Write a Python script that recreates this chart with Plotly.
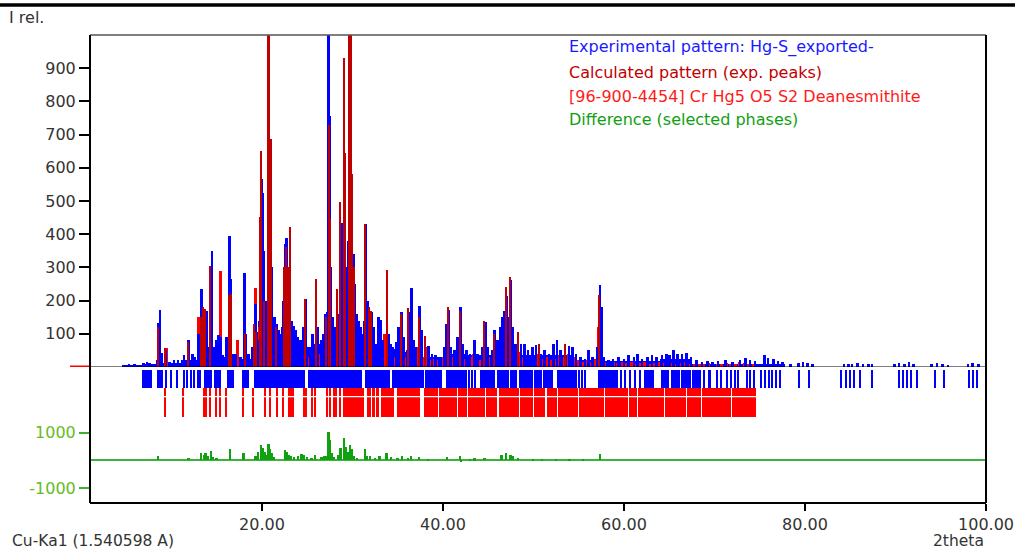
import numpy as np
import plotly.graph_objects as go

# ---------------- data ----------------
# Experimental pattern: peaks (2theta, I rel.)
exp_peaks = [
    (4.8, 6), (5.3, 8), (5.9, 8), (6.4, 6), (6.9, 12), (7.3, 15), (7.6, 12), (7.9, 10),
    (8.5, 133), (8.75, 172), (8.95, 42), (9.4, 52), (9.8, 15), (10.3, 20), (10.7, 22),
    (11.4, 36), (11.9, 81), (12.3, 40), (12.6, 30), (13.0, 100), (13.3, 235), (13.5, 178),
    (13.7, 175), (13.85, 170), (14.1, 60), (14.47, 350), (14.7, 60), (15.0, 81), (15.2, 96),
    (15.39, 90), (15.7, 30), (16.1, 90), (16.42, 395), (16.6, 265), (16.8, 40), (17.1, 40),
    (17.6, 30), (18.08, 284), (18.2, 100), (18.5, 40), (18.9, 60), (19.26, 190), (19.4, 106),
    (19.6, 80), (19.95, 566), (20.05, 523), (20.2, 350), (20.4, 200), (20.6, 160), (20.78, 644),
    (20.9, 520), (21.05, 300), (21.2, 140), (21.4, 150), (21.6, 130), (21.85, 110), (22.0, 100),
    (22.2, 120), (22.35, 200), (22.58, 370), (22.72, 388), (22.9, 250), (23.1, 130), (23.3, 140),
    (23.5, 125), (23.7, 110), (23.9, 90), (24.1, 80), (24.3, 70), (24.55, 120), (24.8, 205),
    (25.0, 60), (25.3, 50), (25.6, 100), (25.95, 250), (26.2, 120), (26.5, 80), (26.8, 100),
    (27.0, 160), (27.2, 165), (27.37, 1050), (27.47, 756), (27.6, 300), (27.8, 150), (28.0, 120),
    (28.3, 235), (28.5, 160), (28.65, 390), (28.85, 433), (29.07, 786), (29.2, 450), (29.4, 300),
    (29.55, 380), (29.75, 528), (29.9, 435), (30.1, 340), (30.3, 250), (30.5, 160), (30.7, 140),
    (30.9, 120), (31.1, 100), (31.3, 140), (31.5, 431), (31.65, 200), (31.9, 100), (32.1, 165),
    (32.3, 120), (32.6, 70), (32.9, 150), (33.1, 141), (33.3, 80), (33.8, 288), (34.0, 100),
    (34.2, 70), (34.5, 60), (34.8, 75), (35.1, 120), (35.4, 167), (35.7, 90), (36.0, 50),
    (36.2, 165), (36.5, 238), (36.8, 80), (37.0, 60), (37.4, 184), (37.6, 110), (38.0, 50),
    (38.4, 62), (38.8, 40), (39.2, 35), (39.6, 30), (40.1, 60), (40.4, 130), (40.6, 172),
    (40.9, 60), (41.3, 50), (41.6, 90), (41.95, 180), (42.2, 70), (42.6, 50), (43.0, 40),
    (43.5, 80), (43.8, 40), (44.3, 60), (44.7, 137), (45.0, 60), (45.4, 50), (45.7, 112),
    (46.0, 80), (46.3, 120), (46.6, 150), (46.8, 170), (47.0, 215), (47.2, 150), (47.5, 262),
    (47.7, 120), (48.0, 70), (48.3, 105), (48.6, 70), (49.0, 70), (49.4, 50), (49.9, 60),
    (50.3, 65), (50.8, 40), (51.2, 50), (51.7, 40), (52.2, 70), (52.6, 80), (53.0, 50),
    (53.5, 65), (53.9, 62), (54.3, 60), (54.7, 40), (55.2, 30), (55.7, 25), (56.1, 52),
    (56.5, 30), (57.1, 60), (57.35, 247), (57.5, 180), (57.8, 30), (58.3, 20), (58.8, 25),
    (59.4, 30), (60.0, 25), (60.5, 35), (61.1, 30), (61.5, 40), (62.0, 25), (62.6, 30),
    (63.1, 35), (63.6, 30), (64.2, 35), (64.7, 40), (65.0, 35), (65.5, 50), (65.9, 40),
    (66.4, 38), (66.9, 42), (67.4, 30), (68.0, 20), (68.6, 15), (69.2, 18), (69.8, 15),
    (70.4, 18), (71.2, 20), (72.0, 15), (72.8, 22), (73.4, 28), (73.9, 22), (74.5, 18),
    (75.5, 35), (75.9, 28), (76.5, 25), (77.0, 18), (77.5, 15), (78.4, 10), (79.3, 12),
    (79.8, 14), (80.3, 12), (80.8, 8), (84.3, 8), (84.8, 10), (85.2, 10), (85.8, 12),
    (86.4, 8), (87.0, 10), (87.4, 8), (89.9, 10), (90.4, 12), (91.0, 10), (91.5, 14),
    (92.0, 10), (94.0, 10), (94.6, 12), (95.2, 8), (95.8, 6), (98.0, 10), (98.5, 12), (99.2, 8),
]

# Experimental pattern: background level between peaks (start, end, level)
exp_background = [
    (4.5, 6.8, 4), (6.8, 8.3, 10), (8.3, 9.0, 20), (9.0, 11.0, 12), (11.0, 12.8, 20),
    (12.8, 14.0, 60), (14.0, 15.8, 35), (15.8, 17.0, 30), (17.0, 19.0, 25), (19.0, 19.6, 70),
    (19.6, 21.5, 140), (21.5, 22.4, 100), (22.4, 23.6, 120), (23.6, 24.4, 80), (24.4, 25.5, 60),
    (25.5, 27.2, 70), (27.2, 28.2, 100), (28.2, 29.5, 130), (29.5, 30.6, 150), (30.6, 31.8, 100),
    (31.8, 33.2, 70), (33.2, 35.0, 55), (35.0, 37.8, 45), (37.8, 40.0, 30), (40.0, 42.5, 40),
    (42.5, 46.0, 35), (46.0, 48.0, 70), (48.0, 52.0, 35), (52.0, 54.5, 35), (54.5, 57.0, 22),
    (57.0, 60.0, 18), (60.0, 64.0, 18), (64.0, 67.5, 25), (67.5, 70.0, 10), (70.0, 75.0, 10),
    (75.0, 77.8, 10),
]

# Calculated pattern (exp. peaks)
calc_peaks = [
    (8.5, 121), (9.35, 57), (11.9, 75), (13.25, 150), (13.55, 180), (13.75, 175),
    (14.28, 304), (16.38, 217), (16.58, 220), (18.1, 100), (19.15, 130), (19.42, 106),
    (19.8, 453), (19.88, 651), (20.28, 200), (20.72, 1050), (20.8, 1050), (20.88, 684),
    (20.98, 688), (21.6, 120), (22.5, 302), (22.66, 361), (22.85, 300), (23.15, 421),
    (24.8, 205), (25.95, 263), (26.05, 265), (27.15, 150), (27.42, 729), (27.55, 446),
    (28.3, 235), (28.6, 498), (29.05, 930), (29.15, 644), (29.68, 1050), (29.82, 1050),
    (29.92, 580), (30.15, 300), (31.45, 432), (31.8, 180), (32.1, 170), (33.8, 292),
    (35.4, 160), (36.2, 178), (37.4, 150), (38.0, 92), (40.55, 180), (41.95, 170),
    (44.6, 140), (45.7, 100), (47.0, 242), (47.45, 272), (48.3, 105), (50.6, 70),
    (53.5, 70), (57.3, 218),
]

# [96-900-4454] Cr Hg5 O5 S2 Deanesmithite
phase_peaks = [
    (9.45, 57), (12.95, 151), (14.3, 60), (15.39, 289), (16.5, 80), (17.3, 81), (19.0, 60),
    (19.26, 238), (19.7, 120), (20.2, 140), (20.5, 160), (21.1, 200), (21.4, 90), (21.8, 70),
    (22.1, 60), (22.35, 110), (23.35, 120), (23.7, 60), (24.0, 50), (24.35, 40), (24.6, 90),
    (25.2, 30), (25.6, 50), (26.3, 40), (26.7, 60), (27.0, 80), (27.7, 140), (27.95, 80),
    (28.15, 100), (28.45, 150), (28.9, 200), (29.35, 220), (29.55, 260), (30.0, 250),
    (30.35, 120), (30.8, 60), (31.15, 50), (31.65, 150), (32.0, 80), (32.4, 50), (32.8, 40),
    (33.2, 60), (33.55, 100), (34.1, 40), (34.6, 30), (35.0, 50), (35.6, 70), (35.9, 30),
    (36.35, 80), (36.8, 40), (37.2, 60), (37.7, 30), (38.1, 60), (38.6, 20), (39.0, 25),
    (39.5, 20), (40.0, 30), (40.4, 60), (41.0, 30), (41.5, 40), (42.1, 70), (42.5, 25),
    (43.0, 30), (43.4, 40), (44.0, 20), (44.4, 60), (45.0, 30), (45.5, 45), (46.0, 30),
    (46.5, 60), (46.9, 90), (47.3, 100), (47.9, 40), (48.4, 45), (48.9, 30), (49.4, 35),
    (49.9, 20), (50.4, 40), (50.9, 25), (51.4, 30), (51.9, 20), (52.4, 25), (52.9, 35),
    (53.4, 30), (53.9, 40), (54.4, 30), (54.9, 20), (55.4, 15), (55.9, 20), (56.4, 15),
    (56.9, 25), (57.2, 120), (57.8, 15), (58.3, 12), (58.8, 15), (59.3, 12), (59.8, 15),
    (60.3, 12), (60.8, 15), (61.3, 10), (61.8, 12), (62.3, 15), (62.8, 10), (63.3, 12),
    (63.8, 15), (64.3, 12), (64.8, 15), (65.3, 12), (65.8, 10), (66.3, 12), (66.8, 15),
    (67.3, 10), (67.8, 8), (68.3, 10), (68.8, 8), (69.3, 12), (69.8, 8), (70.3, 10),
    (70.8, 8), (71.3, 12), (71.8, 10), (72.3, 8), (72.8, 15), (73.3, 12), (73.8, 10), (74.3, 8),
]

# Difference (selected phases)
diff_points = [
    (8.56, 170), (11.9, 100), (13.3, 250), (13.6, 200), (13.8, 280), (14.1, 150), (14.4, 325),
    (14.6, 120), (15.0, 90), (16.5, 420), (18.0, 270), (19.3, 150), (19.6, 300), (19.9, 566),
    (20.1, 450), (20.3, 300), (20.5, 200), (20.75, 600), (20.9, 400), (21.1, 250), (21.3, 120),
    (22.6, 385), (22.8, 300), (23.0, 200), (23.2, 150), (23.6, 120), (24.0, 150), (24.4, 240),
    (24.7, 200), (25.0, 120), (25.5, 100), (25.9, 200), (26.6, 120), (26.9, 150), (27.15, 150),
    (27.37, 1010), (27.55, 750), (27.7, 250), (28.0, 120), (28.4, 200), (28.7, 450),
    (29.07, 808), (29.25, 500), (29.5, 300), (29.75, 566), (29.95, 400), (30.2, 150),
    (30.5, 100), (31.4, 410), (31.6, 150), (32.0, 150), (32.5, 100), (33.0, 150), (33.8, 250),
    (34.3, 120), (35.0, 80), (35.5, 150), (36.2, 100), (36.5, 150), (37.4, 120), (38.4, 60),
    (40.5, 120), (41.9, 150), (42.05, -70), (43.0, 60), (43.5, 70), (44.6, 80), (46.5, 180),
    (47.0, 250), (47.5, 200), (47.8, 150), (48.3, 100), (50.0, 50), (51.0, 50), (52.5, 60),
    (54.0, 40), (55.5, 40), (57.4, 220),
]

# Reflection position ticks (start, end) in 2theta
exp_ticks = [
    (6.8, 7.8), (8.45, 9.05), (9.4, 9.45), (9.9, 9.95), (10.6, 10.65), (11.35, 11.4),
    (11.75, 11.8), (12.1, 12.15), (12.45, 12.5), (12.85, 13.3), (13.6, 14.5), (14.7, 15.5),
    (16.1, 16.9), (17.8, 18.6), (19.15, 24.8), (25.05, 31.05), (31.35, 34.2), (34.4, 37.9),
    (38.05, 39.9), (40.3, 42.7), (42.9, 42.95), (43.2, 43.25), (43.5, 43.55), (44.1, 45.8),
    (46.0, 47.3), (47.45, 48.2), (48.4, 49.9), (50.05, 50.9), (51.05, 52.2), (52.6, 54.8),
    (55.0, 55.05), (55.3, 55.35), (55.65, 55.7), (57.1, 59.3), (59.6, 59.65), (60.15, 60.2),
    (60.7, 60.75), (61.2, 61.25), (61.7, 61.8), (62.2, 63.3), (64.1, 65.0), (65.15, 66.2),
    (66.35, 67.4), (67.55, 68.5), (68.8, 68.85), (69.3, 69.6), (70.3, 70.35), (70.7, 70.75),
    (71.4, 71.45), (71.85, 71.9), (72.2, 72.25), (72.6, 72.65), (73.6, 73.65), (73.9, 73.95),
    (74.4, 74.45), (75.1, 75.15), (75.55, 75.6), (76.0, 76.05), (76.35, 76.4), (76.75, 76.8),
    (77.2, 77.25), (79.3, 79.35), (80.4, 80.45), (84.0, 84.05), (84.5, 84.55), (84.95, 85.0),
    (85.4, 85.45), (86.05, 86.1), (87.4, 87.45), (90.4, 90.45), (90.85, 90.9), (91.3, 91.35),
    (91.65, 91.7), (92.4, 92.45), (94.3, 94.35), (95.3, 95.35), (98.1, 98.15), (98.55, 98.6),
    (99.0, 99.05),
]
phase_ticks = [
    (9.28, 9.33), (11.3, 11.35), (13.6, 13.65), (13.82, 13.87), (14.26, 14.31), (14.92, 14.97),
    (15.37, 15.42), (15.98, 16.03), (17.84, 17.89), (18.97, 19.02), (20.35, 20.4), (20.9, 20.95),
    (21.7, 21.75), (22.3, 22.35), (23.0, 23.05), (23.2, 23.25), (23.45, 23.5), (24.6, 24.65),
    (24.9, 24.95), (25.5, 25.55), (25.85, 25.9), (27.2, 27.25), (27.5, 27.55), (27.9, 27.95),
    (28.2, 28.25), (28.6, 28.65), (29.0, 31.25), (31.6, 32.0), (32.15, 32.5), (32.65, 32.9),
    (33.1, 34.56), (34.9, 37.5), (37.9, 39.4), (39.55, 41.5), (41.65, 42.6), (42.75, 44.6),
    (44.75, 46.0), (46.15, 48.4), (48.55, 49.9), (50.05, 51.3), (51.45, 52.6), (52.75, 54.9),
    (55.05, 57.8), (57.95, 60.4), (60.55, 61.4), (61.55, 64.4), (64.55, 66.8), (66.95, 68.5),
    (68.65, 71.8), (71.95, 74.6),
]

x_ticks = [20, 40, 60, 80, 100]
x_tick_labels = ["20.00", "40.00", "60.00", "80.00", "100.00"]
y_ticks = [100, 200, 300, 400, 500, 600, 700, 800, 900]
diff_ticks = [-1000, 1000]

legend_items = [
    ("Experimental pattern: Hg-S_exported-", "#1a1aff"),
    ("Calculated pattern (exp. peaks)", "#c00000"),
    ("[96-900-4454] Cr Hg5 O5 S2 Deanesmithite", "#ff1a1a"),
    ("Difference (selected phases)", "#10a010"),
]

# ---------------- figure ----------------
W, H = 1015, 550
L, R, T, B = 90, 29, 35, 47
PW, PH = W - L - R, H - T - B


def px(x):
    return (x - L) / PW


def py(y):
    return (H - B - y) / PH


BLUE, DRED, RED, GREEN = "#0000ff", "#c00000", "#ff0000", "#10a010"

fig = go.Figure()


def add_bars(pairs, color, width, yaxis="y"):
    xs = [p[0] for p in pairs]
    ys = [p[1] for p in pairs]
    fig.add_trace(go.Bar(x=xs, y=ys, width=width, marker=dict(color=color, line=dict(width=0)),
                         yaxis=yaxis, hoverinfo="skip"))


# experimental background
bg_x = [(s + e) / 2 for s, e, _ in exp_background]
bg_w = [e - s for s, e, _ in exp_background]
bg_y = [lv for _, _, lv in exp_background]
fig.add_trace(go.Bar(x=bg_x, y=bg_y, width=bg_w, marker=dict(color=BLUE, line=dict(width=0)),
                     hoverinfo="skip"))
# phase pattern (bright red)
add_bars(phase_peaks, RED, 0.32)
# experimental peaks
add_bars(exp_peaks, BLUE, 0.28)
# calculated peaks
add_bars(calc_peaks, DRED, 0.16)


def add_ticks(ranges, color, base, height):
    xs = [(s + e) / 2 for s, e in ranges]
    ws = [max(e - s, 0.13) for s, e in ranges]
    fig.add_trace(go.Bar(x=xs, y=[height] * len(xs), base=base, width=ws,
                         marker=dict(color=color, line=dict(width=0)), yaxis="y3",
                         hoverinfo="skip"))


add_ticks(exp_ticks, BLUE, 32, 18)
add_ticks(phase_ticks, RED, 3.5, 28.5)

# difference
add_bars(diff_points, GREEN, 0.2, yaxis="y2")

d_low = py(420)
d_mid = py(367)
axis_font = dict(family="DejaVu Sans", size=16, color="#333333")

fig.update_layout(
    width=W, height=H, autosize=False,
    margin=dict(l=L, r=R, t=T, b=B, pad=0, autoexpand=False),
    plot_bgcolor="white", paper_bgcolor="white",
    barmode="overlay", bargap=0, showlegend=False,
    font=axis_font,
    xaxis=dict(range=[1, 100], tickvals=x_ticks, ticktext=x_tick_labels, ticks="outside",
               ticklen=7, tickwidth=1.5, tickcolor="black", showgrid=False, zeroline=False,
               anchor="y2", tickfont=axis_font, automargin=False),
    yaxis=dict(domain=[d_mid, 1], range=[0, 1000], tickvals=y_ticks, ticks="outside",
               ticklen=10, tickwidth=1.5, tickcolor="black", showgrid=False, zeroline=False,
               tickfont=axis_font, automargin=False),
    yaxis2=dict(domain=[0, d_low], range=[-1542, 1459], tickvals=diff_ticks,
                ticktext=[str(v) for v in diff_ticks], ticks="outside", ticklen=10,
                tickwidth=1.5, tickcolor="#44b02a", showgrid=False, zeroline=True,
                zerolinecolor="#3cb43c", zerolinewidth=1.5, automargin=False,
                tickfont=dict(family="DejaVu Sans", size=16, color="#66bb22")),
    yaxis3=dict(domain=[d_low, d_mid], range=[0, 53], visible=False, fixedrange=True,
                automargin=False),
)

shapes = [
    # baseline of the intensity panel
    dict(type="line", xref="paper", yref="y", x0=0, x1=1, y0=0, y1=0,
         line=dict(color="black", width=1.2)),
    # red phase marker at left of baseline
    dict(type="line", xref="paper", yref="y", x0=px(70), x1=px(91), y0=0, y1=0,
         line=dict(color=RED, width=3)),
    # white separator inside the phase ticks
    dict(type="line", xref="paper", yref="y3", x0=0, x1=1, y0=23.3, y1=23.3,
         line=dict(color="white", width=1.2)),
    # frame
    dict(type="line", xref="paper", yref="paper", x0=0, x1=1, y0=1, y1=1,
         line=dict(color="#555555", width=1.5)),
    dict(type="line", xref="paper", yref="paper", x0=0, x1=1, y0=0, y1=0,
         line=dict(color="black", width=2)),
    dict(type="line", xref="paper", yref="paper", x0=0, x1=0, y0=0, y1=1,
         line=dict(color="black", width=2)),
    dict(type="line", xref="paper", yref="paper", x0=1, x1=1, y0=0, y1=1,
         line=dict(color="black", width=2)),
    # thick top rule of the window
    dict(type="line", xref="paper", yref="paper", x0=px(0), x1=px(W), y0=py(5), y1=py(5),
         line=dict(color="black", width=3.5)),
]
fig.update_layout(shapes=shapes)

small_font = dict(family="DejaVu Sans", size=15.5, color="#333333")
ann = [
    dict(text="I rel.", x=px(8), y=py(18), xanchor="left", yanchor="middle", font=axis_font),
    dict(text="Cu-Ka1 (1.540598 A)", x=px(11), y=py(541), xanchor="left", yanchor="middle",
         font=small_font),
    dict(text="2theta", x=px(985), y=py(541), xanchor="right", yanchor="middle",
         font=small_font),
]
for a in ann:
    a.update(xref="paper", yref="paper", showarrow=False, borderpad=0)
    fig.add_annotation(**a)

for (txt, col), ypix in zip(legend_items, [47, 72, 96, 119]):
    fig.add_annotation(text=txt, x=px(567), y=py(ypix), xref="paper", yref="paper",
                       xanchor="left", yanchor="middle", showarrow=False,
                       font=dict(family="DejaVu Sans", size=16, color=col))

fig.write_html("out.html",
               config={"displayModeBar": False, "responsive": False},
               post_script="document.body.style.margin='0';document.body.style.padding='0';"
                           "document.body.style.overflow='hidden';")
